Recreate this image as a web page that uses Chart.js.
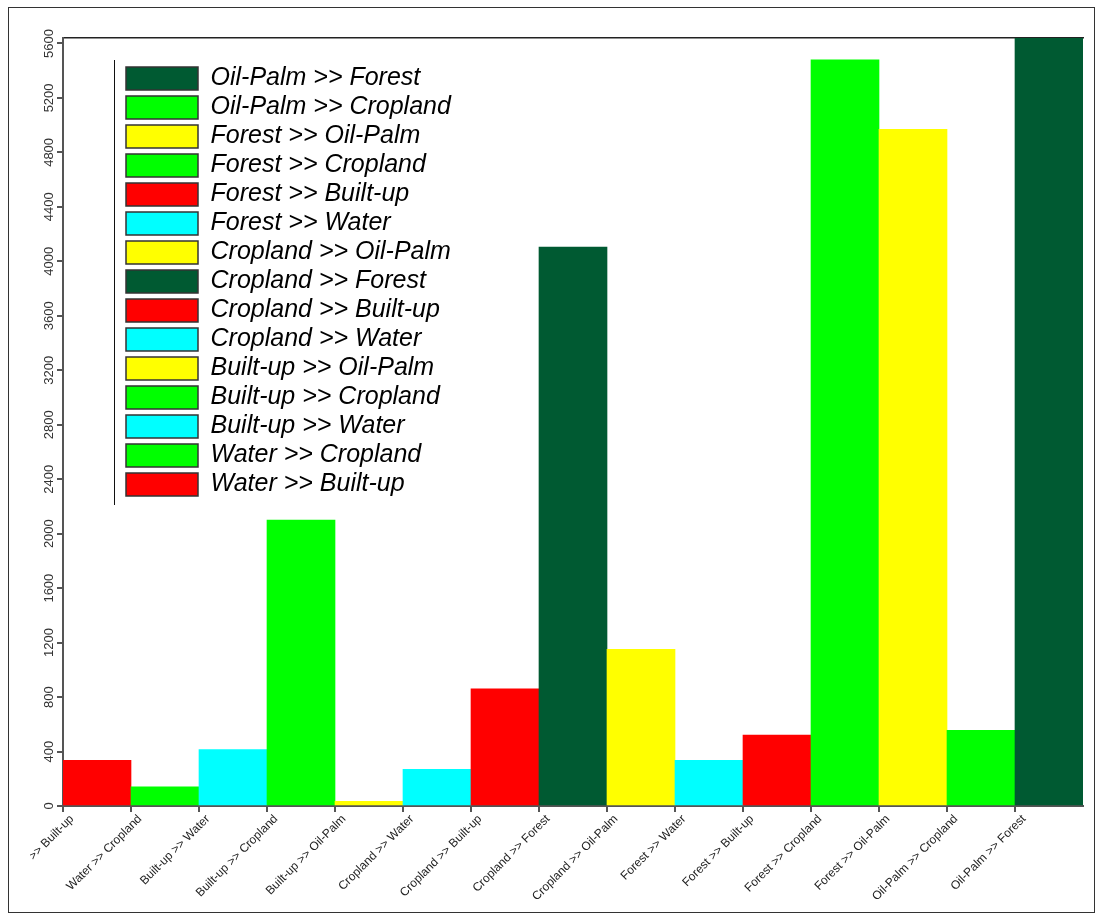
<!DOCTYPE html>
<html>
<head>
<meta charset="utf-8">
<title>Land cover transitions</title>
<script src="https://cdn.jsdelivr.net/npm/chart.js@4.4.1/dist/chart.umd.min.js"></script>
<style>
  html, body { margin: 0; padding: 0; background: #fff; }
  #frame { position: absolute; left: 8px; top: 7px; width: 1087px; height: 906px;
           border: 1px solid #333; box-sizing: border-box; }
  #wrap { position: absolute; left: 30px; top: 10px; width: 1060px; height: 902px; }
</style>
</head>
<body>
<div id="frame"></div>
<div id="wrap"><canvas id="c" width="1060" height="902"></canvas></div>
<script>
// Transition classes, in plotting order
const categories = [
  'Water >> Built-up', 'Water >> Cropland', 'Built-up >> Water', 'Built-up >> Cropland',
  'Built-up >> Oil-Palm', 'Cropland >> Water', 'Cropland >> Built-up', 'Cropland >> Forest',
  'Cropland >> Oil-Palm', 'Forest >> Water', 'Forest >> Built-up', 'Forest >> Cropland',
  'Forest >> Oil-Palm', 'Oil-Palm >> Cropland', 'Oil-Palm >> Forest'
];

// Changed area per transition
const areaValues = [335, 140, 415, 2100, 35, 270, 860, 4105, 1150, 335, 520, 5480, 4970, 555, 5640];

// Fill colour of each transition (by destination class)
const barColours = [
  '#ff0000', '#00ff00', '#00ffff', '#00ff00', '#ffff00', '#00ffff', '#ff0000', '#005a32',
  '#ffff00', '#00ffff', '#ff0000', '#00ff00', '#ffff00', '#00ff00', '#005a32'
];

// Value axis
const yTickValues = [0, 400, 800, 1200, 1600, 2000, 2400, 2800, 3200, 3600, 4000, 4400, 4800, 5200, 5600];
const yMax = 5640;

const FONT = "'Liberation Sans', Arial, sans-serif";

// Puts the legend inside the plot, next to a thin rule on its left side
const legendPlacement = {
  id: 'legendPlacement',
  afterLayout(chart) {
    const lg = chart.legend, ca = chart.chartArea;
    lg.left = ca.left + 59;
    lg.top = ca.top + 24;
  },
  afterDraw(chart) {
    const lg = chart.legend, ctx = chart.ctx;
    const h = lg.columnSizes && lg.columnSizes.length ? lg.columnSizes[0].height : 0;
    const x = Math.round(lg.left - 8) + 0.5;
    ctx.save();
    ctx.strokeStyle = '#111';
    ctx.lineWidth = 1;
    ctx.beginPath();
    ctx.moveTo(x, lg.top - 2);
    ctx.lineTo(x, lg.top + h + 8);
    ctx.stroke();
    ctx.restore();
  }
};

new Chart(document.getElementById('c'), {
  type: 'bar',
  data: {
    labels: categories,
    datasets: [{
      data: areaValues,
      backgroundColor: barColours,
      borderWidth: 0,
      barPercentage: 1.0,
      categoryPercentage: 1.0
    }]
  },
  options: {
    responsive: false,
    animation: false,
    devicePixelRatio: 1,
    layout: { padding: { top: 28, right: 7, bottom: 0, left: 0 } },
    scales: {
      x: {
        type: 'category',
        position: 'bottom',
        offset: true,
        grid: {
          offset: true,
          drawOnChartArea: false,
          drawTicks: true,
          tickLength: 6,
          lineWidth: 2,
          tickColor: (c) => (c.index < categories.length ? '#555' : 'rgba(0,0,0,0)')
        },
        border: { display: true, color: '#555', width: 2 },
        ticks: {
          autoSkip: false,
          minRotation: 45,
          maxRotation: 45,
          labelOffset: -25,
          padding: 0,
          color: '#222',
          font: { family: FONT, size: 12 }
        },
        afterFit(s) { s.height = 106; s.paddingLeft = 0; s.paddingRight = 0; }
      },
      xTop: {
        type: 'category',
        axis: 'x',
        position: 'top',
        labels: categories,
        offset: true,
        grid: { display: false, drawTicks: false },
        ticks: { display: false },
        border: { display: true, color: '#222', width: 1.5 }
      },
      y: {
        min: 0,
        max: yMax,
        grid: {
          drawOnChartArea: false,
          drawTicks: true,
          tickLength: 6,
          lineWidth: 2,
          tickColor: '#555'
        },
        border: { display: true, color: '#555', width: 2 },
        afterBuildTicks(s) { s.ticks = yTickValues.map(v => ({ value: v })); },
        ticks: {
          autoSkip: false,
          minRotation: 90,
          maxRotation: 90,
          crossAlign: 'center',
          padding: -7,
          color: '#333',
          font: { family: FONT, size: 13 },
          callback: (v) => String(v)
        },
        afterFit(s) { s.width = 33; s.paddingTop = 0; s.paddingBottom = 0; }
      }
    },
    plugins: {
      tooltip: { enabled: false },
      legend: {
        display: true,
        position: 'chartArea',
        align: 'start',
        labels: {
          boxWidth: 72,
          boxHeight: 23,
          padding: 4,
          color: '#000',
          font: { family: FONT, size: 25, style: 'italic' },
          generateLabels: () => categories.map((name, i) => ({
            text: name,
            fillStyle: barColours[i],
            strokeStyle: '#333',
            lineWidth: 1.5,
            hidden: false,
            index: i,
            datasetIndex: 0
          })).reverse()
        }
      }
    }
  },
  plugins: [legendPlacement]
});
</script>
</body>
</html>
